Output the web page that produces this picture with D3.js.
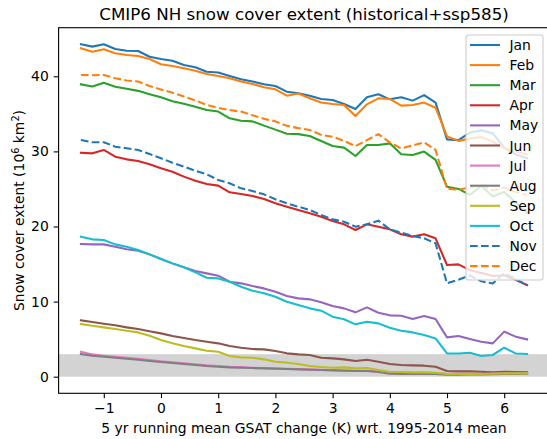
<!DOCTYPE html>
<html>
<head>
<meta charset="utf-8">
<script src="https://cdn.jsdelivr.net/npm/d3@7"></script>
<style>
  body { margin: 0; background: #fff; }
  svg { display: block; font-family: "DejaVu Sans", sans-serif; }
</style>
</head>
<body>
<svg id="canvas" width="547" height="439"></svg>
<script>
// GSAT change bins (K)
const gsat = [-1.4, -1.2, -1.0, -0.8, -0.6, -0.4, -0.2, 0.0, 0.2, 0.4,
              0.6, 0.8, 1.0, 1.2, 1.4, 1.6, 1.8, 2.0, 2.2, 2.4,
              2.6, 2.8, 3.0, 3.2, 3.4, 3.6, 3.8, 4.0, 4.2, 4.4,
              4.6, 4.8, 5.0, 5.2, 5.4, 5.6, 5.8, 6.0, 6.2, 6.4];

// snow cover extent per month (10^6 km2)
const jan = [44.26, 43.95, 44.26, 43.64, 43.41, 43.37, 42.6, 42.3, 42.08, 41.5, 41.2, 40.6, 40.5, 40.04, 39.6, 39.3, 38.93, 38.7, 37.95, 37.73, 37.42, 36.98, 36.84, 36.31, 35.65, 37.2, 37.6, 36.93, 37.2, 36.76, 37.5, 36.5, 31.6, 31.5, 32.5, 32.8, 32.4, 30.5, 29.6, 29.1];
const feb = [43.72, 43.28, 43.6, 43.06, 42.84, 42.7, 42.3, 41.6, 41.37, 41.06, 40.75, 40.3, 40.04, 39.73, 39.3, 38.98, 38.53, 38.27, 37.42, 37.7, 37.07, 36.5, 36.3, 36.18, 34.7, 36.27, 37.07, 36.98, 36.09, 36.18, 36.5, 35.82, 32.0, 31.4, 31.7, 31.9, 31.3, 30.4, 30.0, 29.6];
const mar = [38.93, 38.65, 39.15, 38.62, 38.33, 38.06, 37.62, 37.2, 36.68, 36.35, 35.96, 35.5, 35.3, 34.4, 34.07, 34.0, 33.43, 32.9, 32.35, 32.3, 32.05, 31.39, 30.72, 30.5, 29.39, 30.85, 30.85, 31.07, 29.61, 29.52, 29.97, 28.86, 25.3, 25.0, 24.2, 25.4, 24.0, 24.6, 23.2, 21.8];
const apr = [29.83, 29.74, 30.19, 29.3, 28.94, 28.72, 28.28, 27.75, 27.3, 26.64, 26.1, 25.66, 25.44, 24.55, 24.33, 24.06, 23.66, 23.09, 22.64, 22.2, 21.75, 21.31, 20.73, 20.29, 19.53, 20.29, 19.98, 19.62, 18.96, 18.65, 18.96, 18.43, 14.87, 14.96, 14.2, 13.8, 13.4, 13.5, 12.9, 12.2];
const may = [17.67, 17.62, 17.62, 17.31, 16.96, 16.78, 16.29, 15.67, 15.09, 14.56, 14.07, 13.76, 13.45, 12.65, 12.43, 12.07, 11.76, 11.32, 10.74, 10.43, 10.3, 9.9, 9.41, 9.1, 8.57, 9.23, 8.52, 8.17, 8.12, 7.68, 8.08, 7.68, 5.24, 5.42, 5.02, 4.66, 4.44, 6.0, 5.33, 4.97];
const jun = [7.5, 7.28, 7.06, 6.84, 6.57, 6.35, 6.04, 5.77, 5.42, 5.15, 4.88, 4.66, 4.44, 4.08, 3.86, 3.68, 3.64, 3.42, 3.11, 2.97, 2.89, 2.53, 2.44, 2.31, 2.09, 2.26, 2.0, 1.69, 1.55, 1.51, 1.47, 1.33, 0.76, 0.71, 0.71, 0.67, 0.58, 0.67, 0.62, 0.58];
const jul = [3.33, 2.97, 2.8, 2.66, 2.53, 2.4, 2.22, 2.04, 1.91, 1.78, 1.64, 1.51, 1.42, 1.33, 1.29, 1.2, 1.15, 1.11, 1.06, 1.02, 0.98, 0.93, 0.89, 0.84, 0.8, 0.8, 0.71, 0.58, 0.53, 0.53, 0.53, 0.49, 0.36, 0.38, 0.4, 0.4, 0.42, 0.44, 0.44, 0.44];
const aug = [3.02, 2.8, 2.66, 2.53, 2.4, 2.26, 2.09, 1.95, 1.82, 1.69, 1.55, 1.42, 1.33, 1.24, 1.2, 1.15, 1.11, 1.06, 1.02, 0.98, 0.93, 0.89, 0.84, 0.8, 0.76, 0.76, 0.62, 0.4, 0.36, 0.36, 0.36, 0.36, 0.27, 0.27, 0.3, 0.3, 0.32, 0.36, 0.38, 0.4];
const sep = [7.01, 6.79, 6.57, 6.35, 6.13, 5.9, 5.46, 4.88, 4.44, 4.08, 3.77, 3.46, 3.33, 2.75, 2.57, 2.53, 2.31, 2.0, 1.87, 1.69, 1.42, 1.29, 1.2, 1.24, 1.11, 1.15, 0.89, 0.67, 0.62, 0.58, 0.58, 0.53, 0.36, 0.36, 0.4, 0.36, 0.4, 0.44, 0.44, 0.44];
const oct = [18.64, 18.29, 18.2, 17.62, 17.31, 16.87, 16.29, 15.67, 15.09, 14.56, 13.89, 13.18, 13.09, 12.65, 11.98, 11.45, 11.1, 10.65, 9.99, 9.54, 9.1, 8.79, 7.99, 7.64, 6.97, 7.32, 7.1, 6.53, 6.13, 5.9, 5.55, 5.1, 3.1, 3.1, 3.2, 2.75, 2.89, 3.86, 3.1, 3.02];
const nov = [31.52, 31.21, 31.21, 30.63, 30.41, 30.19, 29.65, 29.08, 28.5, 27.97, 27.43, 26.95, 26.19, 25.75, 25.08, 24.73, 24.28, 23.62, 23.09, 22.64, 22.2, 21.53, 20.95, 20.64, 19.98, 20.29, 20.78, 19.62, 19.18, 18.74, 18.43, 17.76, 12.43, 12.9, 13.5, 12.7, 12.4, 13.8, 13.0, 12.2];
const dec = [40.18, 40.15, 40.18, 39.73, 39.45, 39.3, 38.7, 38.25, 37.8, 37.3, 36.8, 36.2, 35.8, 35.5, 35.3, 34.8, 34.35, 34.0, 33.4, 33.1, 32.85, 32.2, 31.95, 31.4, 30.7, 31.5, 32.3, 31.2, 30.4, 30.8, 31.2, 30.2, 25.0, 24.9, 25.2, 25.5, 24.8, 25.2, 24.6, 24.2];

const monthNames = ['Jan', 'Feb', 'Mar', 'Apr', 'May', 'Jun', 'Jul', 'Aug', 'Sep', 'Oct', 'Nov', 'Dec'];
const monthValues = [jan, feb, mar, apr, may, jun, jul, aug, sep, oct, nov, dec];

// shaded band (10^6 km2)
const bandLow = 0;
const bandHigh = 3;

const xTicks = [-1, 0, 1, 2, 3, 4, 5, 6];
const yTicks = [0, 10, 20, 30, 40];

const colors = ['#1f77b4', '#ff7f0e', '#2ca02c', '#d62728', '#9467bd', '#8c564b',
                '#e377c2', '#7f7f7f', '#bcbd22', '#17becf', '#1f77b4', '#ff7f0e'];

let canvas = d3.select('#canvas');

// plot box (right edge falls just outside the picture)
const plotLeft = 58.6, plotRight = 549.4, plotTop = 27.7, plotBottom = 393.3;
const fontSize = 13.9;

let xScale = d3.scaleLinear().domain([-1.79, 6.79]).range([plotLeft, plotRight]);
let yScale = d3.scaleLinear().domain([-2.21, 46.47]).range([plotBottom, plotTop]);

// grey band
canvas.append('rect')
    .attr('x', plotLeft)
    .attr('width', plotRight - plotLeft)
    .attr('y', yScale(bandHigh))
    .attr('height', yScale(bandLow) - yScale(bandHigh))
    .attr('fill', '#d3d3d3');

let line = d3.line()
    .x((d, i) => xScale(gsat[i]))
    .y((d) => yScale(d));

monthValues.forEach((values, m) => {
    canvas.append('path')
        .attr('d', line(values))
        .attr('fill', 'none')
        .attr('stroke', colors[m])
        .attr('stroke-width', 2.08)
        .attr('stroke-linejoin', 'round')
        .attr('stroke-linecap', m >= 10 ? 'butt' : 'square')
        .attr('stroke-dasharray', m >= 10 ? '7.7,3.3' : null);
});

// axes
let xAxis = d3.axisBottom(xScale)
    .tickValues(xTicks)
    .tickSize(4.9)
    .tickPadding(4.9)
    .tickFormat((d) => d < 0 ? '\u2212' + Math.abs(d) : d);
let yAxis = d3.axisLeft(yScale)
    .tickValues(yTicks)
    .tickSize(4.9)
    .tickPadding(4.9);

let gx = canvas.append('g').attr('transform', `translate(0,${plotBottom})`).call(xAxis);
let gy = canvas.append('g').attr('transform', `translate(${plotLeft},0)`).call(yAxis);
[gx, gy].forEach((g) => {
    g.select('.domain').remove();
    g.selectAll('.tick line').attr('stroke', '#000').attr('stroke-width', 1.1);
    g.selectAll('.tick text')
        .attr('fill', '#000')
        .style('font-size', fontSize + 'px')
        .style('font-family', '"DejaVu Sans", sans-serif');
});

// spines
canvas.append('rect')
    .attr('x', plotLeft).attr('y', plotTop)
    .attr('width', plotRight - plotLeft).attr('height', plotBottom - plotTop)
    .attr('fill', 'none')
    .attr('stroke', '#000')
    .attr('stroke-width', 1.1);

// title and labels
canvas.append('text')
    .attr('x', (plotLeft + plotRight) / 2)
    .attr('y', 20)
    .attr('text-anchor', 'middle')
    .style('font-size', '16.7px')
    .text('CMIP6 NH snow cover extent (historical+ssp585)');

canvas.append('text')
    .attr('x', (plotLeft + plotRight) / 2)
    .attr('y', 433)
    .attr('text-anchor', 'middle')
    .style('font-size', fontSize + 'px')
    .text('5 yr running mean GSAT change (K) wrt. 1995-2014 mean');

let ylab = canvas.append('text')
    .attr('transform', `translate(24,${(plotTop + plotBottom) / 2}) rotate(-90)`)
    .attr('text-anchor', 'middle')
    .style('font-size', fontSize + 'px');
ylab.append('tspan').text('Snow cover extent (10');
ylab.append('tspan').attr('dy', -5).style('font-size', '9.7px').text('6');
ylab.append('tspan').attr('dy', 5).text(' km');
ylab.append('tspan').attr('dy', -5).style('font-size', '9.7px').text('2');
ylab.append('tspan').attr('dy', 5).text(')');

// legend
const legX = 466, legY = 35, legW = 77, legH = 245, rowH = 20.1;
canvas.append('rect')
    .attr('x', legX).attr('y', legY)
    .attr('width', legW).attr('height', legH)
    .attr('rx', 2.8)
    .attr('fill', 'rgba(255,255,255,0.8)')
    .attr('stroke', '#cccccc')
    .attr('stroke-width', 1.1);

let legend = canvas.selectAll('.legend-item')
    .data(monthNames)
    .enter()
    .append('g')
    .attr('class', 'legend-item')
    .attr('transform', (d, i) => `translate(${legX},${legY + 10 + i * rowH})`);

legend.append('line')
    .attr('x1', 4).attr('x2', 34)
    .attr('stroke', (d, i) => colors[i])
    .attr('stroke-width', 2.08)
    .attr('stroke-dasharray', (d, i) => i >= 10 ? '7.7,3.3' : null);

legend.append('text')
    .attr('x', 43.5)
    .attr('y', 5)
    .style('font-size', fontSize + 'px')
    .text((d) => d);
</script>
</body>
</html>
